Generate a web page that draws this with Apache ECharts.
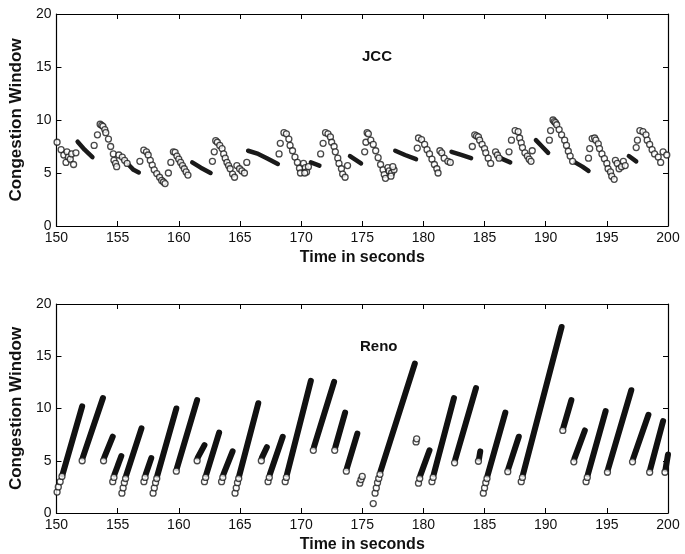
<!DOCTYPE html>
<html><head><meta charset="utf-8">
<script src="https://cdn.jsdelivr.net/npm/echarts@6.0.0/dist/echarts.min.js"></script>
<style>html,body{margin:0;padding:0;background:#fff}#c{width:685px;height:554px}</style>
</head><body><div id="c"></div>
<script>
// ---- tick labels ----
const xTicks = [150,155,160,165,170,175,180,185,190,195,200];
const yTicks = [0,5,10,15,20];
const panelTitles = ['JCC','Reno'];
const xName = 'Time in seconds';
const yName = 'Congestion Window';

// ---- JCC: individual (sparse) samples [time, cwnd] ----
const jccPoints = [
 [150.05,7.9],[150.38,7.2],[150.6,6.7],[150.86,7.0],[150.97,6.5],[150.78,6.0],[151.13,6.3],[151.4,5.8],[151.24,6.8],[151.59,6.9],
 [153.08,7.6],[153.35,8.6],[153.57,9.6],[153.7,9.5],[153.8,9.4],[153.95,9.1],[154.03,8.8],[154.25,8.2],[154.43,7.5],[154.65,6.8],[154.7,6.2],[154.83,5.9],[154.92,5.6],
 [155.1,6.7],[155.38,6.5],[155.57,6.2],[155.78,5.9],
 [156.82,6.1],[157.14,7.15],[157.36,7.0],[157.5,6.7],[157.67,6.2],[157.83,5.75],[157.99,5.3],[158.2,4.95],[158.43,4.6],[158.6,4.3],[158.75,4.15],[158.88,4.0],
 [159.15,5.0],[159.35,6.0],[159.56,7.0],[159.7,6.95],[159.85,6.6],[160.0,6.3],[160.15,6.0],[160.3,5.7],[160.45,5.4],[160.6,5.1],[160.75,4.8],
 [162.75,6.1],[162.9,7.0],[163.02,8.05],[163.15,7.9],[163.35,7.6],[163.54,7.3],[163.67,6.8],[163.8,6.4],[163.94,6.0],[164.07,5.7],[164.2,5.4],[164.4,4.9],[164.56,4.6],
 [164.75,5.7],[164.97,5.4],[165.16,5.2],[165.37,5.0],[165.56,6.0],
 [168.2,6.8],[168.3,7.8],[168.6,8.8],[168.8,8.7],[169.0,8.2],[169.1,7.6],[169.3,7.1],[169.5,6.5],[169.7,6.0],[169.87,5.45],[169.95,5.0],
 [170.2,5.9],[170.35,5.5],[170.45,5.1],[170.6,5.6],[170.3,5.0],
 [171.6,6.8],[171.8,7.8],[172.0,8.8],[172.2,8.7],[172.4,8.4],[172.5,7.9],[172.7,7.5],[172.8,7.0],[173.0,6.4],[173.1,5.9],[173.3,5.4],[173.4,4.9],[173.6,4.6],[173.8,5.7],
 [175.2,7.0],[175.3,7.9],[175.4,8.8],[175.5,8.7],[175.7,8.1],[175.9,7.7],[176.1,7.1],[176.3,6.45],[176.5,5.8],[176.7,5.3],[176.8,4.85],[176.9,4.5],
 [177.1,5.5],[177.2,5.2],[177.4,5.0],[177.6,5.3],[177.35,4.7],[177.5,5.6],
 [179.5,7.35],[179.6,8.3],[179.85,8.15],[180.1,7.7],[180.3,7.2],[180.5,6.8],[180.7,6.3],[180.9,5.8],[181.1,5.4],[181.2,5.0],
 [181.35,7.1],[181.5,6.9],[181.7,6.4],[182.0,6.1],[182.2,6.0],
 [184.0,7.5],[184.2,8.6],[184.35,8.5],[184.5,8.4],[184.6,8.1],[184.8,7.7],[185.0,7.3],[185.1,6.9],[185.3,6.4],[185.5,5.9],
 [185.9,7.0],[186.05,6.7],[186.2,6.4],
 [187.0,7.0],[187.2,8.1],[187.5,9.0],[187.75,8.9],[187.87,8.3],[188.0,7.85],[188.1,7.4],[188.3,6.9],[188.5,6.6],[188.65,6.3],[188.8,6.1],[188.9,7.1],
 [190.3,8.1],[190.4,9.0],[190.6,10.0],[190.7,9.85],[190.8,9.75],[190.9,9.55],[191.1,9.1],[191.3,8.6],[191.55,8.1],[191.7,7.6],[191.85,7.05],[192.0,6.6],[192.2,6.1],
 [193.5,6.4],[193.6,7.3],[193.8,8.25],[194.0,8.3],[194.1,8.1],[194.3,7.75],[194.4,7.3],[194.6,6.8],[194.8,6.35],[195.0,5.9],[195.1,5.4],[195.3,5.1],[195.4,4.7],[195.6,4.4],
 [195.7,6.2],[195.85,5.9],[196.0,5.4],[196.2,5.6],[196.35,6.1],[196.5,5.7],
 [197.4,7.4],[197.5,8.1],[197.7,9.0],[197.95,8.9],[198.2,8.6],[198.3,8.1],[198.5,7.7],[198.7,7.2],[198.9,6.8],[199.2,6.5],[199.4,6.0],[199.6,7.0],[199.9,6.7]
];

// ---- JCC: densely sampled stretches (drawn as solid runs) ----
const jccDense = [
 [[151.73,7.95],[152.3,7.2],[152.94,6.5]],
 [[155.92,5.75],[156.3,5.3],[156.73,5.05]],
 [[161.1,6.0],[161.8,5.5],[162.6,5.0]],
 [[165.67,7.1],[166.5,6.8],[167.2,6.4],[168.1,5.85]],
 [[170.8,6.0],[171.5,5.7]],
 [[174.0,6.6],[174.9,5.9]],
 [[177.7,7.1],[178.5,6.7],[179.4,6.3]],
 [[182.3,7.0],[183.1,6.7],[183.9,6.4]],
 [[186.3,6.4],[187.1,6.0]],
 [[189.2,8.1],[189.7,7.5],[190.2,6.9]],
 [[192.4,6.0],[193.0,5.6],[193.5,5.2]],
 [[196.8,6.6],[197.4,6.1]]
];

// ---- Reno: separated samples at the foot of each ramp [time, cwnd] ----
const renoSparse = [
 [150.05,2.0],[150.15,2.5],[150.3,3.0],[150.45,3.5],
 [152.1,5.0],[153.85,5.0],
 [154.6,3.0],[154.7,3.4],
 [155.35,1.9],[155.45,2.4],[155.55,2.9],[155.65,3.3],
 [157.15,3.0],[157.25,3.4],
 [157.9,1.9],[158.0,2.4],[158.1,2.9],[158.2,3.3],
 [159.8,4.0],[161.5,5.0],
 [162.1,3.0],[162.2,3.4],
 [163.5,3.0],[163.6,3.4],
 [164.6,1.9],[164.7,2.4],[164.8,2.9],[164.9,3.3],
 [166.75,5.0],
 [167.3,3.0],[167.4,3.4],
 [168.7,3.0],[168.8,3.4],
 [171.0,6.0],[172.75,6.0],[173.7,4.0],
 [174.8,2.85],[174.9,3.2],[175.0,3.5],
 [175.9,0.9],
 [176.05,1.9],[176.15,2.4],[176.25,2.9],[176.35,3.3],[176.45,3.7],
 [179.4,6.8],[179.45,7.1],
 [179.6,2.85],[179.7,3.3],
 [180.7,3.0],[180.8,3.4],
 [182.55,4.8],[184.5,4.95],
 [184.9,1.9],[185.0,2.4],[185.1,2.9],[185.2,3.3],
 [186.9,3.95],
 [188.0,3.0],[188.1,3.4],
 [191.4,7.9],[192.3,4.9],
 [193.3,3.0],[193.4,3.4],
 [195.05,3.9],[197.1,4.9],[198.5,3.9],[199.75,3.9]
];

// ---- Reno: dense ramps [tStart, cwndStart, tEnd, cwndEnd] ----
const renoRamps = [
 [150.5,3.7,152.1,10.2],
 [152.15,5.3,153.8,11.0],
 [153.9,5.3,154.6,7.3],
 [154.75,3.7,155.3,5.45],
 [155.7,3.6,156.95,8.1],
 [157.3,3.7,157.75,5.25],
 [158.25,3.6,159.8,10.0],
 [159.85,4.3,161.5,10.8],
 [161.55,5.3,162.1,6.5],
 [162.25,3.7,163.3,7.7],
 [163.65,3.7,164.4,5.9],
 [164.95,3.6,166.5,10.5],
 [166.8,5.3,167.2,6.3],
 [167.45,3.7,168.5,7.3],
 [168.85,3.7,170.8,12.65],
 [171.05,6.3,172.7,12.55],
 [172.8,6.3,173.6,9.6],
 [173.75,4.3,174.6,7.6],
 [176.5,4.0,179.3,14.3],
 [179.75,3.6,180.5,6.0],
 [180.85,3.7,182.5,11.0],
 [182.6,5.1,184.3,11.95],
 [184.55,5.2,184.65,5.9],
 [185.25,3.6,186.7,9.6],
 [186.95,4.25,187.8,7.3],
 [188.15,3.7,191.3,17.8],
 [191.45,8.2,192.1,10.8],
 [192.35,5.2,193.2,7.9],
 [193.45,3.7,194.9,9.75],
 [195.1,4.2,197.0,11.75],
 [197.15,5.2,198.4,9.4],
 [198.55,4.2,199.6,8.8],
 [199.8,4.2,200.0,5.6]
];

const FONT = '"Liberation Sans", Arial, Helvetica, sans-serif';
const INK = '#111';

function xAxes(g){
  const base = {gridIndex:g, type:'value', min:xTicks[0], max:xTicks[xTicks.length-1], interval:xTicks[1]-xTicks[0],
    splitLine:{show:false}, axisLine:{show:true, onZero:false, lineStyle:{color:'#000', width:1.2}},
    axisTick:{show:true, inside:true, length:5, lineStyle:{color:'#000'}}};
  return [
    Object.assign({}, base, {position:'bottom',
      axisLabel:{show:true, margin:5, color:INK, fontSize:14, fontFamily:FONT},
      name:xName, nameLocation:'middle', nameGap:24,
      nameTextStyle:{fontWeight:'bold', fontSize:16, color:INK, fontFamily:FONT}}),
    Object.assign({}, base, {position:'top', axisLabel:{show:false}})
  ];
}
function yAxes(g){
  const base = {gridIndex:g, type:'value', min:yTicks[0], max:yTicks[yTicks.length-1], interval:yTicks[1]-yTicks[0],
    splitLine:{show:false}, axisLine:{show:true, onZero:false, lineStyle:{color:'#000', width:1.2}},
    axisTick:{show:true, inside:true, length:5, lineStyle:{color:'#000'}}};
  return [
    Object.assign({}, base, {position:'left',
      axisLabel:{show:true, margin:5, color:INK, fontSize:14, fontFamily:FONT},
      name:yName, nameLocation:'middle', nameGap:24, nameRotate:90,
      nameTextStyle:{fontWeight:'bold', fontSize:17, color:INK, fontFamily:FONT}}),
    Object.assign({}, base, {position:'right', axisLabel:{show:false}})
  ];
}

const circleStyle = {color:'#fff', borderColor:'#1a1a1a', borderWidth:1.3};

const option = {
  animation:false,
  backgroundColor:'#fff',
  grid:[
    {left:50, top:14, width:618, height:212},
    {left:50, top:304, width:618, height:209}
  ],
  xAxis:[...xAxes(0), ...xAxes(1)],
  yAxis:[...yAxes(0), ...yAxes(1)],
  graphic:[
    {type:'text', left:362, top:49, style:{text:panelTitles[0], font:'bold 15px '+FONT, fill:INK}},
    {type:'text', left:360, top:339, style:{text:panelTitles[1], font:'bold 15px '+FONT, fill:INK}}
  ],
  series:[
    {type:'lines', coordinateSystem:'cartesian2d', xAxisIndex:0, yAxisIndex:0, polyline:true, silent:true, z:2,
     lineStyle:{color:'#1a1a1a', width:4.5, cap:'round', join:'round', opacity:1},
     data: jccDense.map(c => ({coords:c}))},
    {type:'scatter', xAxisIndex:0, yAxisIndex:0, symbol:'circle', symbolSize:6, z:3, silent:true,
     itemStyle:circleStyle, data:jccPoints},
    {type:'lines', coordinateSystem:'cartesian2d', xAxisIndex:2, yAxisIndex:2, silent:true, z:2,
     lineStyle:{color:'#111', width:6, cap:'round', opacity:1},
     data: renoRamps.map(r => ({coords:[[r[0],r[1]],[r[2],r[3]]]}))},
    {type:'scatter', xAxisIndex:2, yAxisIndex:2, symbol:'circle', symbolSize:6, z:3, silent:true,
     itemStyle:circleStyle, data:renoSparse}
  ]
};
const chart = echarts.init(document.getElementById('c'), null, {renderer:'canvas'});
chart.setOption(option);
</script>
</body></html>
